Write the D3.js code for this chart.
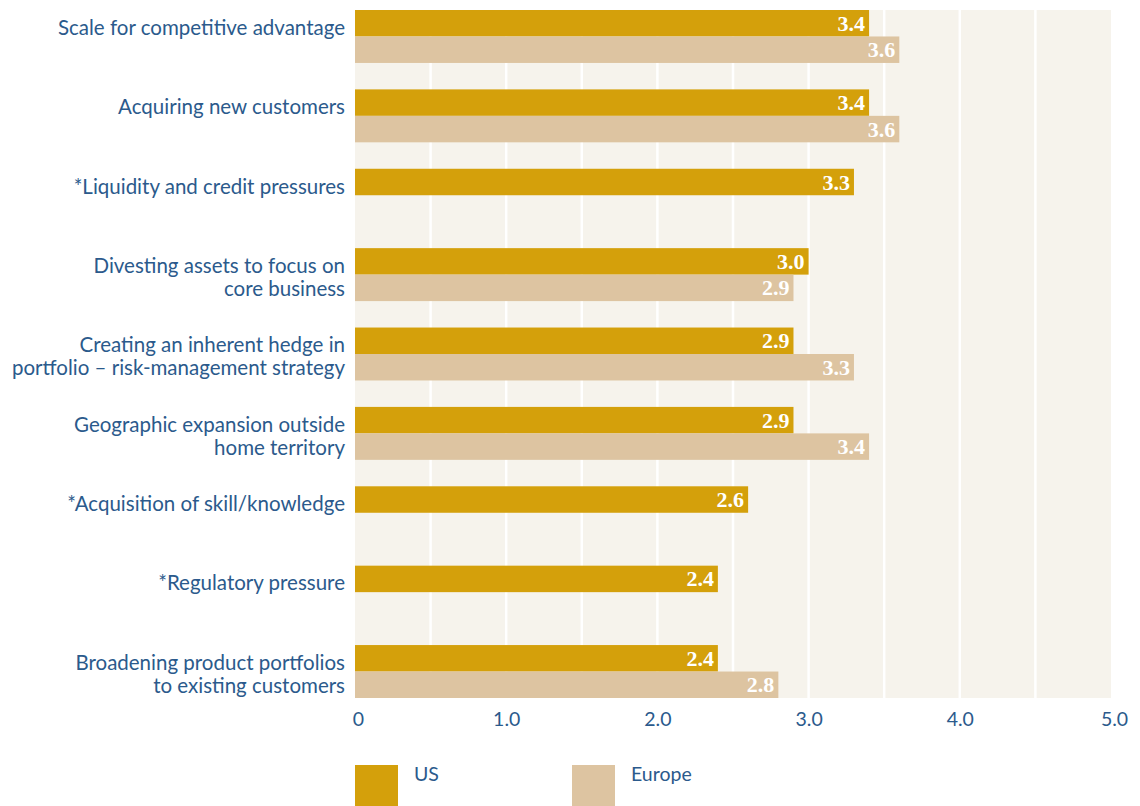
<!DOCTYPE html>
<html>
<head>
<meta charset="utf-8">
<script src="https://cdn.jsdelivr.net/npm/d3@7"></script>
<style>
  html, body { margin: 0; padding: 0; background: #ffffff; }
  svg { display: block; }
</style>
</head>
<body>
<svg id="chart" width="1140" height="806"></svg>
<script>
// Reasons for deals, average rating by region
const categories = [
  ["Scale for competitive advantage"],
  ["Acquiring new customers"],
  ["*Liquidity and credit pressures"],
  ["Divesting assets to focus on", "core business"],
  ["Creating an inherent hedge in", "portfolio \u2013 risk-management strategy"],
  ["Geographic expansion outside", "home territory"],
  ["*Acquisition of skill/knowledge"],
  ["*Regulatory pressure"],
  ["Broadening product portfolios", "to existing customers"]
];
const usValues     = [3.4, 3.4, 3.3, 3.0, 2.9, 2.9, 2.6, 2.4, 2.4];
const europeValues = [3.6, 3.6, null, 2.9, 3.3, 3.4, null, null, 2.8];
const seriesNames  = ["US", "Europe"];
const tickValues   = [0, 1, 2, 3, 4, 5];
const tickLabels   = ["0", "1.0", "2.0", "3.0", "4.0", "5.0"];
const gridValues   = [0.5, 1, 1.5, 2, 2.5, 3, 3.5, 4, 4.5];

const colors = { US: "#d4a00b", Europe: "#ddc4a1" };
const textBlue = "#2b5a8c";

const svg = d3.select("#chart");
const plotLeft = 355, plotRight = 1111, plotTop = 10, plotBottom = 698;

const x = d3.scaleLinear().domain([0, 5]).range([plotLeft, plotRight]);
const y = d3.scaleBand()
  .domain(d3.range(categories.length))
  .range([plotTop, plotBottom])
  .paddingInner(0.333)
  .paddingOuter(0);
const sub = d3.scaleBand().domain(seriesNames).range([0, y.bandwidth()]);

// plot background
svg.append("rect")
  .attr("x", x(0)).attr("y", plotTop)
  .attr("width", x(5) - x(0)).attr("height", plotBottom - plotTop)
  .attr("fill", "#f6f3ec");

// vertical grid lines
svg.append("g").selectAll("line")
  .data(gridValues)
  .join("line")
  .attr("x1", d => x(d)).attr("x2", d => x(d))
  .attr("y1", plotTop).attr("y2", plotBottom)
  .attr("stroke", "#ffffff").attr("stroke-width", 2.5);

// bars
const barData = [];
categories.forEach((c, i) => {
  if (usValues[i] != null) barData.push({ i, s: "US", v: usValues[i] });
  if (europeValues[i] != null) barData.push({ i, s: "Europe", v: europeValues[i] });
});

const bars = svg.append("g");
bars.selectAll("rect")
  .data(barData)
  .join("rect")
  .attr("x", x(0))
  .attr("y", d => y(d.i) + sub(d.s))
  .attr("width", d => x(d.v) - x(0))
  .attr("height", sub.bandwidth())
  .attr("fill", d => colors[d.s]);

bars.selectAll("text")
  .data(barData)
  .join("text")
  .attr("x", d => x(d.v) - 4)
  .attr("y", d => y(d.i) + sub(d.s) + sub.bandwidth() / 2 + 7.5)
  .attr("text-anchor", "end")
  .attr("fill", "#ffffff")
  .attr("font-family", "'Liberation Serif', serif")
  .attr("font-weight", "bold")
  .attr("font-size", 22)
  .text(d => d.v.toFixed(1));

// category labels
const labels = svg.append("g");
categories.forEach((lines, i) => {
  const t = labels.append("text")
    .attr("text-anchor", "end")
    .attr("fill", textBlue)
    .attr("font-family", "Lato, 'Open Sans', sans-serif")
    .attr("font-size", 20.5);
  const base = y(i) + sub("US") + sub.bandwidth() / 2 + 11.5;
  lines.forEach((ln, k) => {
    t.append("tspan").attr("x", 345).attr("y", base + k * 23).text(ln);
  });
});

// x axis tick labels
const xAxis = d3.axisBottom(x).tickValues(tickValues)
  .tickFormat((d, i) => tickLabels[i]).tickSize(0).tickPadding(0);
const ax = svg.append("g").attr("transform", `translate(0, ${plotBottom + 14})`).call(xAxis);
ax.select(".domain").remove();
ax.selectAll("text")
  .attr("fill", textBlue)
  .attr("font-family", "Lato, 'Open Sans', sans-serif")
  .attr("font-size", 19.5)
  .attr("dy", "0.71em");
ax.selectAll(".tick").filter(d => d === 0).select("text").attr("dx", 3);
ax.selectAll(".tick").filter(d => d === 5).select("text").attr("dx", 3);

// legend
const legend = svg.append("g");
const legendX = { US: 355, Europe: 572 };
seriesNames.forEach(s => {
  legend.append("rect")
    .attr("x", legendX[s]).attr("y", 765)
    .attr("width", 43).attr("height", 45)
    .attr("fill", colors[s]);
  legend.append("text")
    .attr("x", legendX[s] + 59).attr("y", 781)
    .attr("fill", textBlue)
    .attr("font-family", "Lato, 'Open Sans', sans-serif")
    .attr("font-size", 19.5)
    .text(s);
});
</script>
</body>
</html>
